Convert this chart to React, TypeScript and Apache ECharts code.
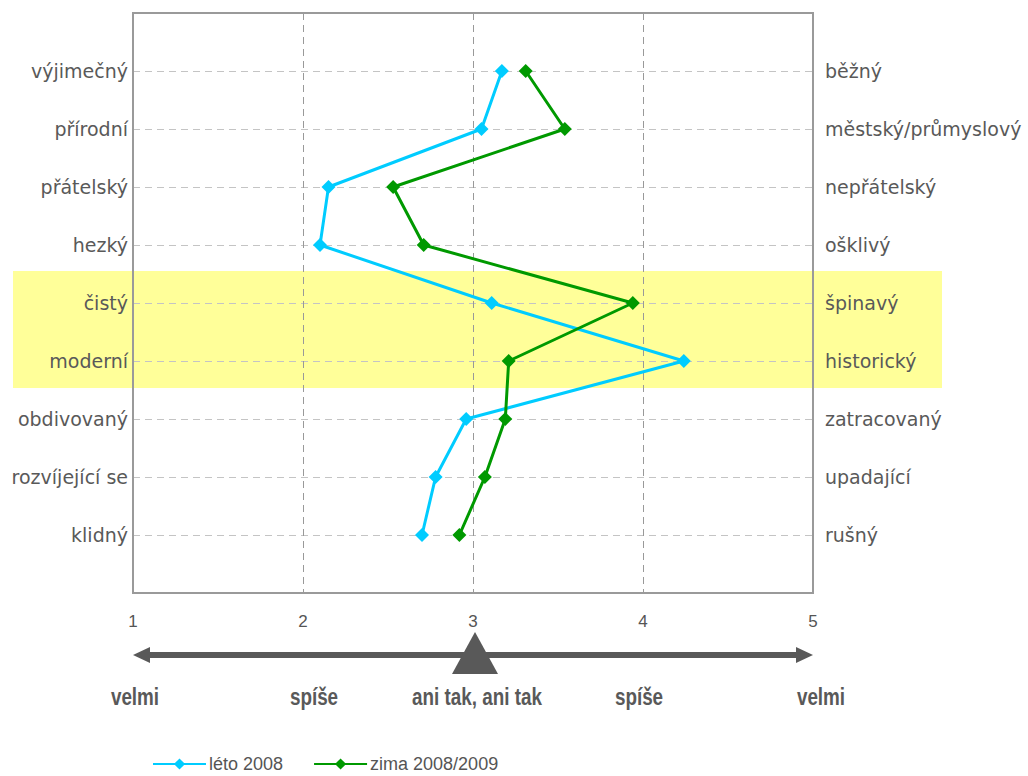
import React, { useEffect, useRef } from "react";
import * as echarts from "echarts";

const leftLabels = ["výjimečný", "přírodní", "přátelský", "hezký", "čistý", "moderní", "obdivovaný", "rozvíjející se", "klidný"];
const rightLabels = ["běžný", "městský/průmyslový", "nepřátelský", "ošklivý", "špinavý", "historický", "zatracovaný", "upadající", "rušný"];
const summer = [3.17, 3.05, 2.15, 2.1, 3.11, 4.24, 2.96, 2.78, 2.7];
const winter = [3.31, 3.54, 2.53, 2.71, 3.94, 3.21, 3.19, 3.07, 2.92];
const seriesNames = ["léto 2008", "zima 2008/2009"];
const scaleWords = ["velmi", "spíše", "ani tak, ani tak", "spíše", "velmi"];
const scaleWordX = [135, 314, 477, 639, 821];

export default function App() {
  const ref = useRef<HTMLDivElement>(null);
  useEffect(() => {
    if (!ref.current) return;
    const chart = echarts.init(ref.current, null, { renderer: "svg" });
    const gray = "#595959";
    const labelFont = "DejaVu Sans";
    const option: any = {
      animation: false,
      grid: { left: 133, top: 13, width: 680, height: 580, show: true, borderColor: "#9a9a9a", borderWidth: 2, backgroundColor: "transparent", z: 1 },
      xAxis: {
        type: "value", min: 1, max: 5, interval: 1,
        axisLine: { show: false }, axisTick: { show: false },
        axisLabel: { margin: 20, color: "#555", fontSize: 17, fontFamily: "Liberation Sans" },
        splitLine: { show: true, lineStyle: { color: "#999", type: [7, 5], width: 1 } },
      },
      yAxis: [
        {
          type: "value", min: 0, max: 10, interval: 1, inverse: true, position: "left",
          axisLine: { show: false }, axisTick: { show: false },
          axisLabel: { margin: 5, color: gray, fontSize: 19, fontFamily: labelFont, formatter: (v: number) => (v >= 1 && v <= 9 ? leftLabels[v - 1] : "") },
          splitLine: { show: true, lineStyle: { color: "#c4c4c4", type: [7, 5], width: 1 } },
        },
        {
          type: "value", min: 0, max: 10, interval: 1, inverse: true, position: "right",
          axisLine: { show: false }, axisTick: { show: false },
          axisLabel: { margin: 12, color: gray, fontSize: 19, fontFamily: labelFont, formatter: (v: number) => (v >= 1 && v <= 9 ? rightLabels[v - 1] : "") },
          splitLine: { show: false },
        },
      ],
      legend: {
        left: 152, top: 755, padding: 0, itemWidth: 53, itemHeight: 14, itemGap: 30,
        textStyle: { color: "#555", fontSize: 18, lineHeight: 18, fontFamily: "Liberation Sans", padding: [0, 0, 0, -2] },
        data: seriesNames,
      },
      series: [
        {
          name: seriesNames[0], type: "line", yAxisIndex: 0,
          data: summer.map((v, i) => [v, i + 1]),
          symbol: "diamond", symbolSize: 14,
          lineStyle: { color: "#00ccff", width: 3 }, itemStyle: { color: "#00ccff" }, z: 3,
        },
        {
          name: seriesNames[1], type: "line", yAxisIndex: 0,
          data: winter.map((v, i) => [v, i + 1]),
          symbol: "diamond", symbolSize: 14,
          lineStyle: { color: "#009900", width: 3 }, itemStyle: { color: "#009900" }, z: 4,
        },
      ],
      graphic: [
        { type: "rect", z: -5, shape: { x: 13, y: 271, width: 929, height: 117 }, style: { fill: "#ffff99" } },
        { type: "line", shape: { x1: 145, y1: 655, x2: 801, y2: 655 }, style: { stroke: gray, lineWidth: 6 } },
        { type: "polygon", shape: { points: [[133, 655], [150, 647], [150, 663]] }, style: { fill: gray } },
        { type: "polygon", shape: { points: [[813, 655], [796, 647], [796, 663]] }, style: { fill: gray } },
        { type: "polygon", shape: { points: [[475, 632], [452, 674], [498, 674]] }, style: { fill: gray } },
        ...scaleWords.map((w, i) => ({
          type: "text", x: scaleWordX[i], y: 697, scaleX: 0.82,
          style: { text: w, fill: gray, font: 'bold 23px "Liberation Sans"', align: "center", verticalAlign: "middle", textAlign: "center", textVerticalAlign: "middle" },
        })),
      ],
    };
    chart.setOption(option);
    return () => chart.dispose();
  }, []);
  return <div ref={ref} style={{ width: 1028, height: 776, position: "absolute", left: 0, top: 0 }} />;
}
